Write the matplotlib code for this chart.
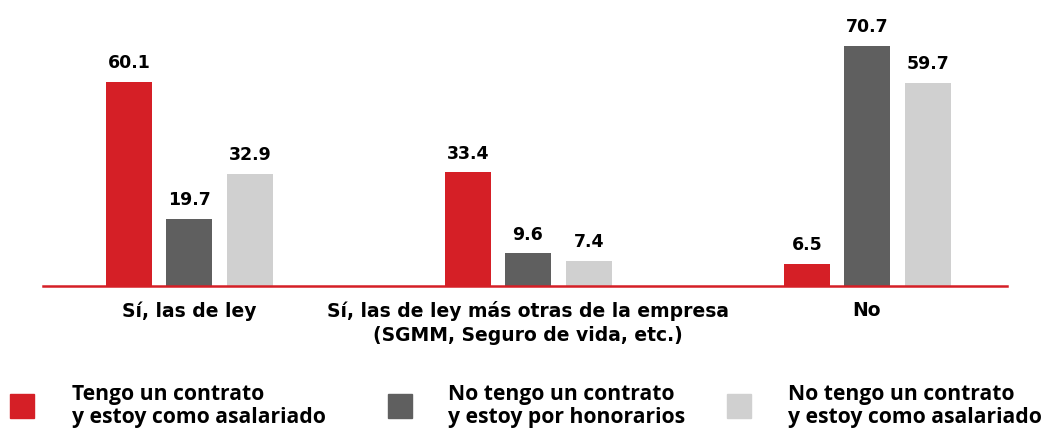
import matplotlib.pyplot as plt
from matplotlib.patches import Rectangle
import numpy as np

categories = ["Sí, las de ley",
              "Sí, las de ley más otras de la empresa\n(SGMM, Seguro de vida, etc.)",
              "No"]
series_names = ["Tengo un contrato\ny estoy como asalariado",
                "No tengo un contrato\ny estoy por honorarios",
                "No tengo un contrato\ny estoy como asalariado"]
contrato_asalariado = [60.1, 33.4, 6.5]
sin_contrato_honorarios = [19.7, 9.6, 70.7]
sin_contrato_asalariado = [32.9, 7.4, 59.7]

colors = ["#D51F26", "#5F5F5F", "#D0D0D0"]
W, H = 1046, 429

fig = plt.figure(figsize=(W / 100, H / 100), dpi=100)
ax = fig.add_axes([43 / W, (H - 286) / H, (1007 - 43) / W, 272 / H])

x = np.arange(len(categories))
width = 0.136
offsets = [-0.176, 0, 0.18]
all_series = [contrato_asalariado, sin_contrato_honorarios, sin_contrato_asalariado]

for vals, off, col in zip(all_series, offsets, colors):
    bars = ax.bar(x + off, vals, width, color=col, zorder=2)
    for b, v in zip(bars, vals):
        ax.annotate(f"{v:.1f}", (b.get_x() + b.get_width() / 2, v),
                    xytext=(0, 7), textcoords="offset points",
                    ha="center", va="bottom", fontsize=12.5,
                    fontweight="bold", color="black")

ax.set_xlim(-0.431, 2.414)
ax.set_ylim(0, 80)
ax.set_yticks([])
ax.set_xticks(x)
ax.set_xticklabels(categories, fontsize=13.5, fontweight="bold", linespacing=1.3)
ax.tick_params(axis="x", length=0, pad=11)
for s in ["top", "right", "left"]:
    ax.spines[s].set_visible(False)
ax.spines["bottom"].set_color("#D51F26")
ax.spines["bottom"].set_linewidth(1.8)
ax.spines["bottom"].set_zorder(3)

# manual legend
sq_x = [10, 388, 727]
txt_x = [72, 448, 788]
for name, col, sx, tx in zip(series_names, colors, sq_x, txt_x):
    fig.patches.append(Rectangle((sx / W, (H - 418) / H), 24 / W, 24 / H,
                                 transform=fig.transFigure, color=col))
    fig.text(tx / W, (H - 406) / H, name, fontsize=15.2, fontweight="bold",
             family="Open Sans", va="center", ha="left", linespacing=1.1)

fig.savefig("out.png", dpi=100)
